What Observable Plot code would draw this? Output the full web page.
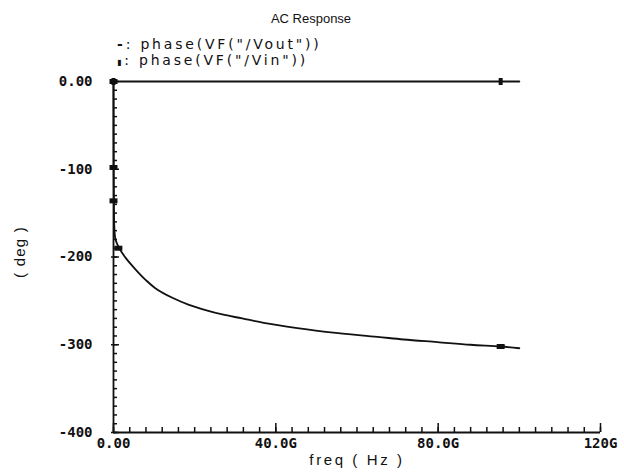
<!DOCTYPE html>
<html><head><meta charset="utf-8">
<script src="https://cdn.jsdelivr.net/npm/d3@7"></script>
<script src="https://cdn.jsdelivr.net/npm/@observablehq/plot@0.6"></script>
<style>body{margin:0;background:#fff}</style>
</head><body><div id="chart"></div>
<script>
// ---- data ----
const titleText = "AC Response";
const legendKeys = ["-", "\u25AE"];
const legendLabels = [': phase(VF("/Vout"))', ': phase(VF("/Vin"))'];
const xLabel = "freq ( Hz )";
const yLabel = "( deg )";

const xMajorTicks = [0, 40, 80, 120];
const xTickLabels = ["0.00", "40.0G", "80.0G", "120G"];
const xMinorTicks = d3.range(0, 121, 4);
const yMajorTicks = [0, -100, -200, -300, -400];
const yTickLabels = ["0.00", "-100", "-200", "-300", "-400"];
const yMinorTicks = d3.range(-400, 1, 10);

// Vout phase (deg) vs frequency (GHz)
const voutFreq = [0, 0.02, 0.05, 0.1, 0.2, 0.5, 1.3, 3.0, 5.4, 7.9, 10.3, 14.5, 18.6, 22.7, 26.8, 31.7, 37, 45.3, 53.5, 65, 71.5, 79.8, 88, 95.4, 100];
const voutPhase = [0, -60, -100, -137, -165, -180, -189, -201, -214, -226, -235.5, -246.5, -254.5, -260.5, -265.5, -270, -275, -281, -286, -291, -294, -297, -300, -302, -304];
// Vin phase
const vinFreq = [0, 100];
const vinPhase = [0, 0];

// trace markers
const voutMarkFreq = [0, 0, 0, 1.2, 95.4];
const voutMarkPhase = [0, -98, -136, -190, -302];
const vinMarkFreq = [0, 95.4];
const vinMarkPhase = [0, 0];

// ---- build ----
const vout = voutFreq.map((f, i) => ({f, p: voutPhase[i]}));
const vin = vinFreq.map((f, i) => ({f, p: vinPhase[i]}));
const voutM = voutMarkFreq.map((f, i) => ({f, p: voutMarkPhase[i]}));
const vinM = vinMarkFreq.map((f, i) => ({f, p: vinMarkPhase[i]}));
const xMap = new Map(xMajorTicks.map((t, i) => [t, xTickLabels[i]]));
const yMap = new Map(yMajorTicks.map((t, i) => [t, yTickLabels[i]]));

const hbar = {draw(ctx) { ctx.rect(-4, -2.5, 8, 5); }};
const vbar = {draw(ctx) { ctx.rect(-2, -3.5, 4, 7); }};
const ink = "#111";
const W = 624, H = 472, ML = 113, MR = 24, MT = 81, MB = 40;
const FW = W - ML - MR, FH = H - MT - MB;
const xDom = [0, 120], yDom = [-400, 0];
const pxX = FW / (xDom[1] - xDom[0]), pxY = FH / (yDom[1] - yDom[0]);
const tickFont = {fontFamily: "'DejaVu Sans Mono', monospace", fontSize: 14, fontWeight: "bold"};

const chart = Plot.plot({
  width: W, height: H,
  marginLeft: ML, marginRight: MR, marginTop: MT, marginBottom: MB,
  x: {domain: xDom},
  y: {domain: yDom},
  style: {color: ink, background: "#fff"},
  marks: [
    Plot.ruleX(xMinorTicks, {x: d => d, y1: yDom[0], y2: yDom[0] + 5 / pxY, stroke: ink, strokeWidth: 1.5}),
    Plot.ruleX(xMajorTicks, {x: d => d, y1: yDom[0], y2: yDom[0] + 9 / pxY, stroke: ink, strokeWidth: 1.5}),
    Plot.ruleY(yMinorTicks, {y: d => d, x1: xDom[0], x2: xDom[0] + 4 / pxX, stroke: ink, strokeWidth: 1.5}),
    Plot.ruleY(yMajorTicks, {y: d => d, x1: xDom[0] - 2 / pxX, x2: xDom[0] + 6 / pxX, stroke: ink, strokeWidth: 1.5}),
    Plot.axisX(xMajorTicks, {tickSize: 0, tickPadding: 6, tickFormat: d => xMap.get(d), label: null, letterSpacing: 2.5, ...tickFont}),
    Plot.axisY(yMajorTicks, {tickSize: 0, tickPadding: 21, tickFormat: d => yMap.get(d), label: null, letterSpacing: 2, ...tickFont}),
    Plot.ruleX([0], {stroke: ink, strokeWidth: 1.8}),
    Plot.ruleY([-400], {stroke: ink, strokeWidth: 1.8}),
    Plot.line(vin, {x: "f", y: "p", stroke: ink, strokeWidth: 1.8}),
    Plot.line(vout, {x: "f", y: "p", stroke: ink, strokeWidth: 1.8, curve: "catmull-rom"}),
    Plot.dot(voutM, {x: "f", y: "p", symbol: hbar, fill: ink, stroke: null}),
    Plot.dot(vinM, {x: "f", y: "p", symbol: vbar, fill: ink, stroke: null})
  ]
});

const svg = d3.select(chart);
const sans = "'Liberation Sans', Arial, sans-serif";
svg.append("text").attr("x", 311).attr("y", 23).attr("text-anchor", "middle")
  .attr("font-family", sans).attr("font-size", 13).attr("fill", ink).text(titleText);
[49, 65].forEach((y, i) => {
  const t = svg.append("text").attr("x", 117).attr("y", y).attr("text-anchor", "start")
    .attr("font-family", "'DejaVu Sans', sans-serif").attr("font-size", 14).attr("letter-spacing", 2.8).attr("fill", ink);
  t.append("tspan").attr("font-weight", "bold").attr("font-size", i === 0 ? 14 : 8).text(legendKeys[i]);
  t.append("tspan").text(legendLabels[i]);
});
svg.append("text").attr("x", 357).attr("y", 465).attr("text-anchor", "middle")
  .attr("font-family", sans).attr("font-size", 15).attr("fill", ink).attr("letter-spacing", 2.6).text(xLabel);
svg.append("text").attr("transform", "translate(25,252) rotate(-90)").attr("text-anchor", "middle")
  .attr("font-family", sans).attr("font-size", 15).attr("fill", ink).attr("letter-spacing", 1.2).text(yLabel);

document.getElementById("chart").appendChild(chart);
</script>
</body></html>
